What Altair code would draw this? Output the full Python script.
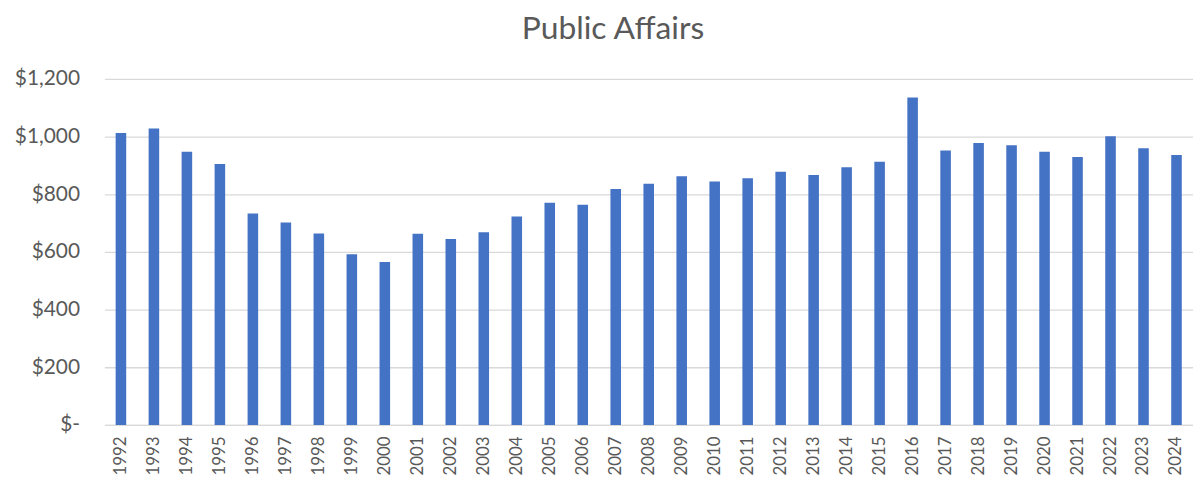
import altair as alt
import pandas as pd

years = [str(y) for y in range(1992, 2025)]
values = [1013, 1028, 948, 905, 733, 702, 664, 592, 565,
          663, 645, 668, 723, 771, 764, 818, 837, 863, 844, 856, 878,
          867, 894, 913, 1136, 952, 978, 970, 948, 929, 1001, 960, 936]
y_ticks = [0, 200, 400, 600, 800, 1000, 1200]

df = pd.DataFrame({"year": years, "value": values})

FONT = "Lato"
TEXT = "#595959"
GRID = "#d9d9d9"

chart = alt.Chart(df).mark_bar(color="#4472C4").encode(
    x=alt.X("year:N", sort=years, title=None,
            scale=alt.Scale(paddingInner=0.68, paddingOuter=0.34),
            axis=alt.Axis(labelAngle=270, labelFontSize=17, labelColor=TEXT,
                          labelFont=FONT, labelPadding=11, ticks=False,
                          domainColor=GRID, domainWidth=1.3, grid=False)),
    y=alt.Y("value:Q", title=None,
            scale=alt.Scale(domain=[0, 1200], nice=False),
            axis=alt.Axis(values=y_ticks, labelFontSize=21, labelColor=TEXT,
                          labelFont=FONT, labelPadding=25, ticks=False,
                          domain=False, gridColor=GRID, gridWidth=1.3,
                          labelExpr="datum.value == 0 ? '$-\u00a0\u00a0' : '$' + format(datum.value, ',')")),
).properties(
    width=1095,
    height=348,
    padding={"left": 97, "top": 70, "right": 0, "bottom": 54},
    autosize=alt.AutoSizeParams(type="none"),
    title=alt.TitleParams("Public Affairs", font=FONT, fontSize=32, color=TEXT,
                          fontWeight="normal", anchor="middle", frame="group",
                          dx=-36, offset=22),
).configure_view(stroke=None)

chart.save("out.html", embed_options={"renderer": "svg", "actions": False})
